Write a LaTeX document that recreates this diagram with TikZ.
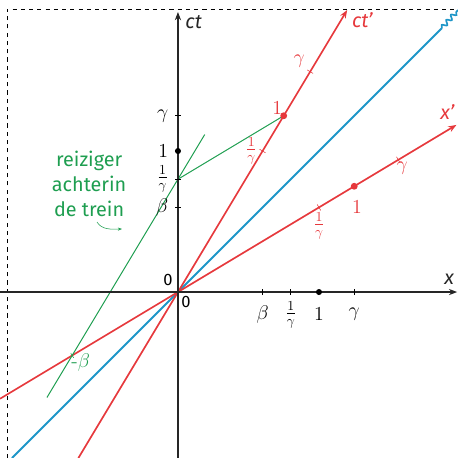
\documentclass[tikz,border=0pt]{standalone}
\usepackage{fontspec}
\setsansfont{Fira Sans}
\usepackage{amsmath}
\definecolor{STred}{HTML}{E6383C}
\definecolor{STblue}{HTML}{1E96C8}
\definecolor{STgreen}{HTML}{1E9E50}
\usetikzlibrary{calc, arrows.meta, positioning, decorations.pathmorphing}

\begin{document}
\begin{tikzpicture}[x=3.6cm, y=3.6cm, every node/.style={font=\Large}]
            \useasboundingbox (-1.262,-1.177) rectangle (1.986,2.071);
            \draw[dashed, thin] (-1.211,-1.177) -- (-1.211,2.007) -- (1.986,2.007);
            % points
            \coordinate (O) at (0,0);
            \coordinate (xL) at (-1.262,0);
            \coordinate (xR) at (1.98,0);
            \coordinate (yB) at (0,-1.177);
            \coordinate (yT) at (0,1.986);
            \coordinate (ctB) at (-0.706,-1.177);
            \coordinate (ctT) at (1.2,2.0);
            \coordinate (xpL) at (-1.262,-0.757);
            \coordinate (xpR) at (1.975,1.185);
            \coordinate (lcB) at (-1.177,-1.177);
            \coordinate (lcM) at (1.872,1.872);
            \coordinate (lcT) at (1.986,2.0);
            \coordinate (E1) at (0.75,1.25);
            \coordinate (E2) at (1.25,0.75);
            \coordinate (A) at (0,0.8);
            \coordinate (B) at (-0.75,-0.45);
            \coordinate (wlB) at (-0.929,-0.748);
            \coordinate (wlT) at (0.19,1.117);
            % lines of the moving frame
            \draw[STblue, line width=1.4pt] (lcB) -- (lcM);
            \draw[STblue, line width=1.2pt, decorate,
               decoration={snake, amplitude=1.6pt, segment length=5pt}] (lcM) -- (lcT);
            \draw[STred, line width=1.2pt, -{Stealth[length=6pt]}] (ctB) -- (ctT)
               node[below right, font=\sffamily\itshape\Large, inner sep=1pt, xshift=2pt] {ct'};
            \draw[STred, line width=1.2pt, -{Stealth[length=6pt]}] (xpL) -- (xpR)
               node[above left, font=\sffamily\itshape\Large, inner sep=1pt, yshift=2pt] {x'};
            \draw[STgreen, line width=0.7pt] (wlB) -- (wlT);
            \draw[STgreen, line width=0.7pt] (A) -- (E1);
            % axes
            \draw[-{Stealth[length=6pt]}, line width=0.9pt, black!85] (xL) -- (xR)
               node[above left, font=\sffamily\itshape\Large, inner sep=2pt, yshift=3pt] {x};
            \draw[-{Stealth[length=6pt]}, line width=0.9pt, black!85] (yB) -- (yT)
               node[below right, font=\sffamily\itshape\Large, inner sep=2pt, xshift=3pt] {ct};
            \node[font=\sffamily\large] (o1) at (-0.071,0.085) {0};
            \node[font=\sffamily\large] (o2) at (0.057,-0.071) {0};
            % ticks on x and ct
            \foreach \t/\lab in {0.6/\beta, 0.8/\frac{1}{\gamma}, 1.25/\gamma}{
               \draw[thin] (\t,-0.02) -- (\t,0.02);
               \node at (\t,-0.16) {$\lab$};
               \draw[thin] (-0.02,\t) -- (0.02,\t);
               \node[anchor=east] at (-0.035,\t) {$\lab$};
            }
            \fill (1,0) circle (2.2pt);
            \node at (1,-0.16) {$1$};
            \fill (0,1) circle (2.2pt);
            \node[anchor=east] at (-0.035,1) {$1$};
            % ticks on ct' and x'
            \foreach \px/\py in {0.6/1, 0.9375/1.5625, 1/0.6, 1.5625/0.9375}{
               \draw[STred, thin] ($(\px,\py)!2.5pt!90:(O)$) -- ($(\px,\py)!2.5pt!-90:(O)$);
            }
            \fill[STred] (E1) circle (2.5pt);
            \fill[STred] (E2) circle (2.5pt);
            \node[STred, above left, inner sep=1pt] at (E1) {$1$};
            \node[STred] at (0.52,1.0) {$\frac{1}{\gamma}$};
            \node[STred] at (0.86,1.635) {$\gamma$};
            \node[STred] at (1.27,0.6) {$1$};
            \node[STred] at (1.0,0.47) {$\frac{1}{\gamma}$};
            \node[STred] at (1.59,0.875) {$\gamma$};
            % traveller at the back of the train
            \draw[STgreen, thin] ($(B)!2pt!90:(O)$) -- ($(B)!2pt!-90:(O)$);
            \node[STgreen] at (-0.69,-0.5) {-$\beta$};
            \node[STgreen, font=\sffamily\Large, align=center] (trav) at (-0.63,0.765)
               {reiziger\\achterin\\de trein};
            \coordinate (c1) at (-0.574,0.496);
            \coordinate (c2) at (-0.397,0.447);
            \draw[STgreen, thin, -{Stealth[length=3pt]}] (c1)
               .. controls (-0.54,0.44) and (-0.47,0.445) .. (c2);
         \end{tikzpicture}
\end{document}
